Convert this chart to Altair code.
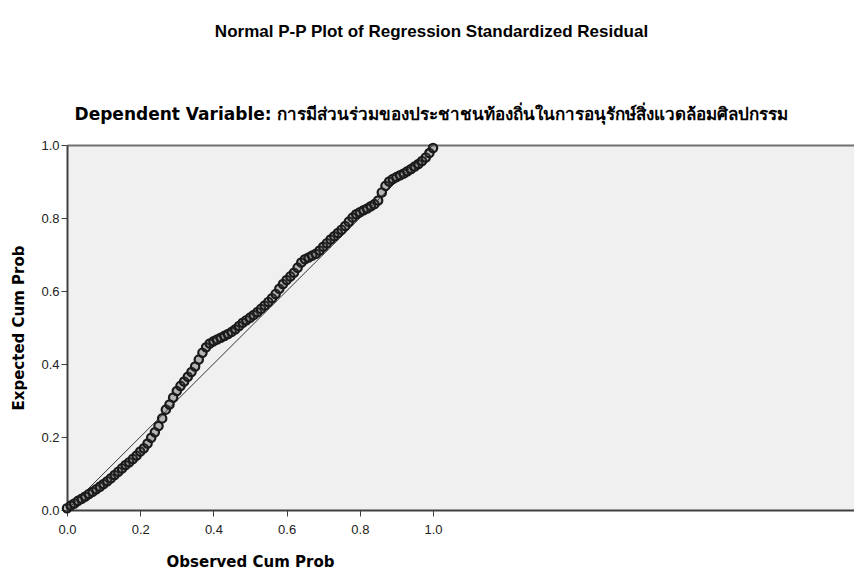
import altair as alt
import pandas as pd

# Observed cumulative probability (x) and expected cumulative probability (y)
observed = [0.00, 0.01, 0.02, 0.03, 0.04, 0.05, 0.06, 0.07, 0.08, 0.09,
            0.10, 0.11, 0.12, 0.13, 0.14, 0.15, 0.16, 0.17, 0.18, 0.19,
            0.20, 0.21, 0.22, 0.23, 0.24, 0.25, 0.26, 0.27, 0.28, 0.29,
            0.30, 0.31, 0.32, 0.33, 0.34, 0.35, 0.36, 0.37, 0.38, 0.39,
            0.40, 0.41, 0.42, 0.43, 0.44, 0.45, 0.46, 0.47, 0.48, 0.49,
            0.50, 0.51, 0.52, 0.53, 0.54, 0.55, 0.56, 0.57, 0.58, 0.59,
            0.60, 0.61, 0.62, 0.63, 0.64, 0.65, 0.66, 0.67, 0.68, 0.69,
            0.70, 0.71, 0.72, 0.73, 0.74, 0.75, 0.76, 0.77, 0.78, 0.79,
            0.80, 0.81, 0.82, 0.83, 0.84, 0.85, 0.86, 0.87, 0.88, 0.89,
            0.90, 0.91, 0.92, 0.93, 0.94, 0.95, 0.96, 0.97, 0.98, 0.99,
            1.00]
expected = [0.005, 0.012, 0.018, 0.025, 0.031, 0.037, 0.044, 0.050, 0.057, 0.064,
            0.071, 0.079, 0.087, 0.096, 0.105, 0.114, 0.123, 0.131, 0.140, 0.149,
            0.160, 0.169, 0.182, 0.198, 0.213, 0.230, 0.251, 0.275, 0.289, 0.308,
            0.326, 0.340, 0.352, 0.365, 0.378, 0.393, 0.412, 0.431, 0.446, 0.456,
            0.462, 0.467, 0.472, 0.477, 0.482, 0.488, 0.495, 0.504, 0.513, 0.520,
            0.527, 0.534, 0.542, 0.551, 0.560, 0.570, 0.580, 0.592, 0.606, 0.619,
            0.630, 0.640, 0.650, 0.664, 0.678, 0.687, 0.692, 0.697, 0.702, 0.711,
            0.721, 0.731, 0.741, 0.750, 0.759, 0.768, 0.778, 0.790, 0.801, 0.810,
            0.816, 0.821, 0.826, 0.832, 0.838, 0.848, 0.870, 0.888, 0.900, 0.907,
            0.912, 0.917, 0.922, 0.928, 0.934, 0.941, 0.948, 0.956, 0.966, 0.978,
            0.992]

line_x = [0.0, 1.0]
line_y = [0.0, 1.0]

x_ticks = [0.0, 0.2, 0.4, 0.6, 0.8, 1.0]
y_ticks = [0.0, 0.2, 0.4, 0.6, 0.8, 1.0]

title_main = "Normal P-P Plot of Regression Standardized Residual"
title_sub = "Dependent Variable: การมีส่วนร่วมของประชาชนท้องถิ่นในการอนุรักษ์สิ่งแวดล้อมศิลปกรรม"

pts = pd.DataFrame({"obs": observed, "exp": expected})
ref = pd.DataFrame({"obs": line_x, "exp": line_y})

LABEL_FONT = "Liberation Sans, Arial, sans-serif"
TITLE_FONT = "Liberation Sans, Arial, sans-serif"
WIDE_FONT = "DejaVu Sans, Verdana, sans-serif"

xscale = alt.Scale(domain=[0, 2.15], nice=False, zero=False)
yscale = alt.Scale(domain=[0, 1], nice=False, zero=False)

y_axis = alt.Axis(values=y_ticks, format=".1f", title="Expected Cum Prob",
                  titleX=-49, titleBaseline="middle", grid=False, tickSize=6,
                  tickColor="#404040", domainColor="#404040", domainWidth=2,
                  labelPadding=2)

line = alt.Chart(ref).mark_line(color="#333333", strokeWidth=1).encode(
    x=alt.X("obs:Q", scale=xscale,
            axis=alt.Axis(orient="top", labels=False, ticks=False, title=None,
                          domain=True, domainColor="#707070", domainWidth=2, grid=False)),
    y=alt.Y("exp:Q", scale=yscale, axis=y_axis),
)

points = alt.Chart(pts).mark_point(
    shape="circle", filled=False, stroke="#1a1a1a", fill="#444444", fillOpacity=0.35,
    size=70, strokeWidth=2.2, opacity=1
).encode(
    x=alt.X("obs:Q", scale=xscale,
            axis=alt.Axis(values=x_ticks, format=".1f", title="Observed Cum Prob",
                          titleX=183, titleY=51, titleBaseline="middle", titleAlign="center",
                          grid=False, tickSize=6, tickColor="#404040", domainColor="#404040",
                          domainWidth=2, labelPadding=7, labelFlush=False)),
    y=alt.Y("exp:Q", scale=yscale, axis=y_axis),
)

chart = alt.layer(line, points).resolve_axis(x="independent").properties(
    width=787,
    height=365,
    autosize=alt.AutoSizeParams(type="none"),
    padding={"left": 59, "top": 137, "right": 0, "bottom": 60},
    title=alt.TitleParams(
        text=title_main,
        subtitle=title_sub,
        anchor="middle",
        frame="group",
        dx=-29,
        offset=15,
        subtitlePadding=66,
        font=TITLE_FONT,
        fontSize=17,
        fontWeight="bold",
        color="#000000",
        subtitleFont=WIDE_FONT,
        subtitleFontSize=17,
        subtitleFontWeight="bold",
        subtitleColor="#000000",
    ),
).configure_view(
    fill="#f0f0f0", stroke=None
).configure_axis(
    labelFont=LABEL_FONT, labelFontSize=13, labelColor="#222222",
    titleFont=WIDE_FONT, titleFontSize=15, titleFontWeight="bold", titleColor="#000000",
)

chart.save("out.html", embed_options={"renderer": "svg", "actions": False})
